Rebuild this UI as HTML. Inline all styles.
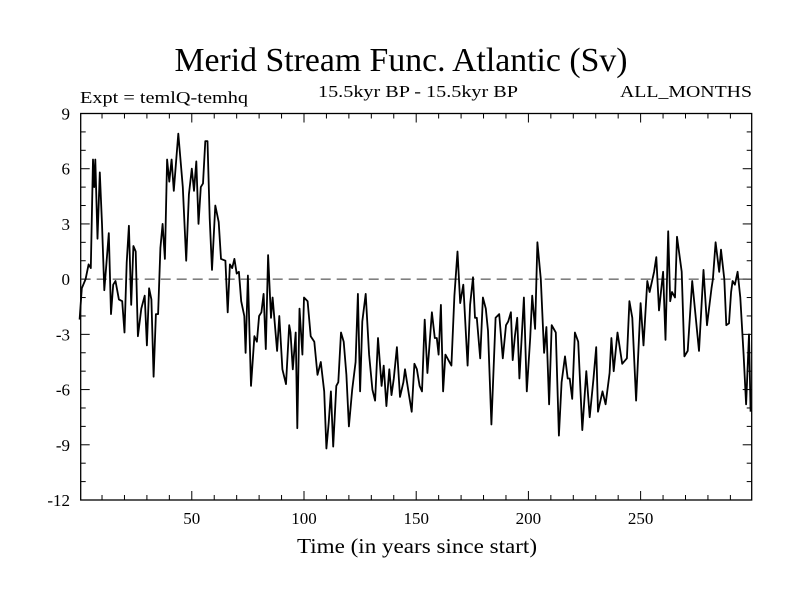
<!DOCTYPE html>
<html><head><meta charset="utf-8"><style>
html,body{margin:0;padding:0;background:#fff;}
svg{display:block;font-family:"Liberation Serif",serif;}
</style></head><body>
<svg id="chart" width="800" height="600" viewBox="0 0 800 600">
<text x="401" y="71" font-size="34" text-anchor="middle" textLength="453" lengthAdjust="spacingAndGlyphs">Merid Stream Func. Atlantic (Sv)</text>
<text x="418" y="97" font-size="17" text-anchor="middle" textLength="200" lengthAdjust="spacingAndGlyphs">15.5kyr BP - 15.5kyr BP</text>
<text x="80" y="103" font-size="17" textLength="168" lengthAdjust="spacingAndGlyphs">Expt = temlQ-temhq</text>
<text x="752" y="97" font-size="17" text-anchor="end" textLength="132" lengthAdjust="spacingAndGlyphs">ALL_MONTHS</text>
<text x="417" y="553" font-size="21" text-anchor="middle" textLength="240" lengthAdjust="spacingAndGlyphs">Time (in years since start)</text>
<g id="axes"></g>
<g id="plot"></g>
</svg>
<script>
const years = [0,1,2.7,4,5,6,6.5,7,8,9,10,11,12,13,14,15,16,17.5,19,20,21,22,23,24,25,26,27.5,29,30,31,32,33,34,35,36,37,38,39,40,41,42,43,44,46,47.5,48.7,50,51,52,53,54,55,56,57,58,59,60.5,62,63,65,66,67,68,69,70,71,72,73.4,74,75,76.4,77.9,79,80,81,82,83,84,85.3,86,88,89,90.4,92,93.4,94,95,96.3,97,98,99.3,100,101.6,103,104.6,106,107.5,109,110,111,112,113,114.4,115.3,116.5,117.7,118.9,120,121.5,123,124,125,126,127.5,129,130.5,131.7,133,134.6,135.5,136.7,138,139,140,141.4,142.8,144.3,145,146.8,148,149.2,150.3,151.5,152.6,153.8,155,157,158.3,159.2,160,161,162,163,165.7,167,168.4,169.6,171,172.9,174,175.3,176.2,177,178.5,179.7,181,182,183.5,185.4,187,188.6,190,191,192.2,193,194,195,196,198,199.3,200.8,201.7,203,204,205.5,207,208,209.2,210.4,212.2,213.6,214.8,216.3,217.5,218.4,219.5,220.7,222.2,224,225.8,227.3,229,230.2,231,233,234.4,236.2,237,238,239.7,241.8,243.9,245,246.3,248,250,251.3,253,254,256,257,258.2,260,261.1,262.3,263.2,264,265.3,266.2,268.3,269.5,271,273,276,278,279.6,281.6,282.2,283.4,285,285.8,287.3,288.2,289.4,290.3,291,292,293.2,294.4,295.9,297,298.3,299];
const values = [-2.2,-0.5,0,0.8,0.6,6.5,5,6.5,2.2,5.8,3,-0.6,0.9,2.5,-1.9,-0.3,-0.1,-1.1,-1.2,-2.9,0.9,2.9,-1.4,1.8,1.5,-3.1,-1.6,-0.9,-3.6,-0.5,-1.1,-5.3,-1.9,-1.9,1.7,3,1.1,6.5,5.3,6.5,4.8,6.4,7.9,5,1,4.6,6,4.8,6.4,3,5,5.2,7.5,7.5,3.3,0.5,4,3.1,1.1,1,-1.8,0.8,0.6,1.1,0.3,0.4,-1.2,-2,-4,0.2,-5.8,-3.1,-3.4,-2,-1.8,-0.8,-3.8,1.3,-2.1,-1,-3.9,-2,-4.9,-5.7,-2.5,-2.9,-4.9,-2.9,-8.1,-1.6,-4.1,-1,-1.2,-3.1,-3.4,-5.2,-4.5,-6.1,-9.2,-7.8,-6.1,-9.1,-5.8,-5.6,-2.9,-3.4,-5.2,-8,-6,-4.5,-0.8,-6.1,-2.3,-0.8,-4.1,-6,-6.6,-3.2,-5.8,-4.7,-6.9,-4.9,-6.3,-5.4,-3.7,-6.4,-5.6,-4.9,-6.3,-7.2,-4.6,-4.9,-5.8,-6.1,-2.2,-5.1,-1.8,-3.2,-3.2,-4.1,-1.4,-6.1,-4.1,-4.7,-0.9,1.5,-1.3,-0.3,-4.7,-1.4,0.1,-2.1,-2.1,-4.3,-1,-1.6,-2.8,-7.9,-2.1,-1.9,-4.3,-2.5,-2.3,-1.8,-4.4,-3.1,-2.1,-5.4,-1,-6.1,-3.2,-0.9,-2.7,2,0,-4,-2.6,-6.8,-2.5,-2.9,-8.5,-5.6,-4.2,-5.4,-5.4,-6.5,-2.9,-3.4,-8.2,-5,-7.5,-5.4,-3.7,-7.2,-6.1,-6.8,-5.1,-3.2,-5,-2.9,-4.6,-4.3,-1.2,-2.1,-6.6,-1.3,-3.6,-0.1,-0.7,0.4,1.2,-1.7,0.4,-3.3,2.6,-1.2,-0.7,-1,2.3,0.4,-4.2,-3.9,-0.1,-3.9,0.5,-2.5,-0.5,0,2,0.4,1.6,0,-2.5,-2.4,-0.7,-0.1,-0.3,0.4,-1,-4.1,-6.8,-3,-7.2,-6.4];
const yTickLabels = [9,6,3,0,-3,-6,-9,-12];
const xTickLabels = [50,100,150,200,250];

const L=80.7,R=751.7,T=113.5,B=500;
const xMin=0.5,xMax=299.5,yMin=-12,yMax=9;
function xs(v){return L+(v-xMin)/(xMax-xMin)*(R-L);}
function ys(v){return B-(v-yMin)/(yMax-yMin)*(B-T);}
const NS='http://www.w3.org/2000/svg';
const axes=document.getElementById('axes'),plot=document.getElementById('plot');
function mk(tag,attrs,parent){const e=document.createElementNS(NS,tag);for(const k in attrs)e.setAttribute(k,attrs[k]);parent.appendChild(e);return e;}

const frame=mk('rect',{x:L,y:T,width:R-L,height:B-T,fill:'none',stroke:'#000','stroke-width':1.3},axes);



for(let v=yMin;v<=yMax;v++){
  const len=(v%3===0)?9:5;const y=ys(v);
  const t1=mk('line',{x1:L,x2:L+len,y1:y,y2:y,stroke:'#000','stroke-width':1},axes);
  
  
  const t2=mk('line',{x1:R,x2:R-len,y1:y,y2:y,stroke:'#000','stroke-width':1},axes);
  
  
}
yTickLabels.forEach(v=>{
  const t=mk('text',{x:70,y:ys(v)+6,'font-size':17,'text-anchor':'end'},axes);
  t.textContent=v;
  
  
});
for(let v=10;v<=290;v+=10){
  const len=(v%50===0)?9:5;const x=xs(v);
  const t1=mk('line',{x1:x,x2:x,y1:B,y2:B-len,stroke:'#000','stroke-width':1},axes);
  
  
  const t2=mk('line',{x1:x,x2:x,y1:T,y2:T+len,stroke:'#000','stroke-width':1},axes);
  
  
}
xTickLabels.forEach(v=>{
  const t=mk('text',{x:xs(v),y:524,'font-size':17,'text-anchor':'middle'},axes);
  t.textContent=v;
  
  
});
const zl=mk('line',{x1:L,x2:R,y1:ys(0),y2:ys(0),stroke:'#333','stroke-width':1,'stroke-dasharray':'10,6'},plot);


const pts=years.map((yr,i)=>xs(yr).toFixed(1)+','+ys(values[i]).toFixed(1)).join(' ');
const line=mk('polyline',{points:pts,fill:'none',stroke:'#000','stroke-width':1.8,'stroke-linejoin':'round'},plot);


</script>
</body></html>
